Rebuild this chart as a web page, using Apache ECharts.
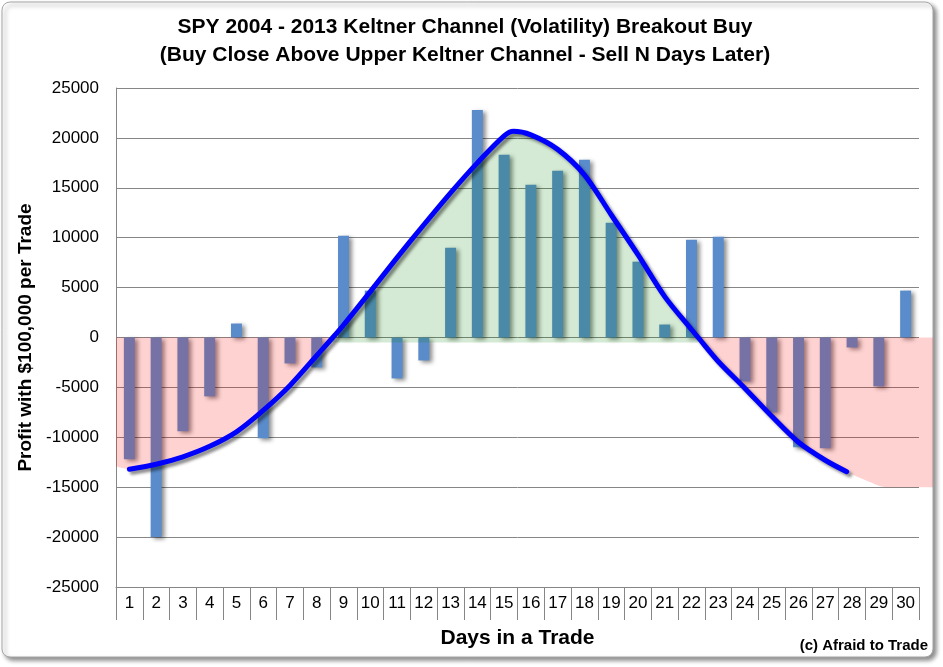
<!DOCTYPE html>
<html>
<head>
<meta charset="utf-8">
<script src="https://cdn.jsdelivr.net/npm/echarts@6/dist/echarts.min.js"></script>
<style>
  html, body { margin: 0; padding: 0; background: #ffffff; }
  #chart { width: 943px; height: 667px; }
</style>
</head>
<body>
<div id="chart"></div>
<script>
// ---------- data ----------
const titleLines = [
  'SPY 2004 - 2013 Keltner Channel (Volatility) Breakout Buy',
  '(Buy Close Above Upper Keltner Channel - Sell N Days Later)'
];
const xAxisTitle = 'Days in a Trade';
const yAxisTitle = 'Profit with $100,000 per Trade';
const creditText = '(c) Afraid to Trade';

const days = [1, 2, 3, 4, 5, 6, 7, 8, 9, 10, 11, 12, 13, 14, 15, 16, 17, 18, 19, 20, 21, 22, 23, 24, 25, 26, 27, 28, 29, 30];
const profit = [-12200, -20000, -9400, -5900, 1400, -10100, -2600, -3000, 10200, 4700,
                -4100, -2300, 9000, 22800, 18300, 15300, 16700, 17800, 11500, 7600,
                1300, 9800, 10100, -4400, -7500, -11000, -11100, -1000, -4900, 4700];

// hand-drawn trend curve (day position, value)
const trendDays   = [1, 2, 3, 4, 5, 6, 7, 8, 8.6, 9, 10, 11, 12, 13, 14, 15, 15.35, 16, 17, 18, 19, 20, 21, 22, 22.25, 23, 24, 25, 26, 27, 27.8];
const trendValues = [-13200, -12700, -11950, -10900, -9450, -7300, -4800, -1800, 0, 1250, 4600, 8000, 11300, 14500, 17500, 20200, 20660, 20300, 18850, 16300, 12300, 8300, 4100, 800, 0, -2400, -5100, -7900, -10500, -12300, -13450];

// shaded zones
const gainZone = [8.6, 22.25];          // green zone between the zero crossings
const lossLeftEdgeValue = -12900;        // red zone value at left edge
const lossTailDays = [28.5, 29.3];       // red zone continuation after the curve ends
const lossTailValues = [-14300, -15000];

const yTicks = { min: -25000, max: 25000, interval: 5000 };

// ---------- layout ----------
const W = 943, H = 667;
const plotLeft = 116, plotRight = 919, plotTop = 88, plotBottom = 587, frameRight = 933;
const overlayMax = 0.5 + days.length * (frameRight - plotLeft) / (plotRight - plotLeft);
const FONT = "'Liberation Sans', Arial, sans-serif";
const GRAY = '#868686';

const curvePts = trendDays.map((d, i) => [d, trendValues[i]]);
const greenPts = curvePts.filter(p => p[0] >= gainZone[0] && p[0] <= gainZone[1]);
const redLeftPts = [[0.5, lossLeftEdgeValue]].concat(curvePts.filter(p => p[0] <= gainZone[0]));
const redRightPts = curvePts.filter(p => p[0] >= gainZone[1])
  .concat(lossTailDays.map((d, i) => [d, lossTailValues[i]]))
  .concat([[overlayMax, lossTailValues[lossTailValues.length - 1]]]);

const chart = echarts.init(document.getElementById('chart'), null, { renderer: 'canvas', width: W, height: H });

const SMOOTH = 0.3;

chart.setOption({
  animation: false,
  backgroundColor: '#ffffff',
  title: {
    text: titleLines.join('\n'),
    left: 465,
    top: 13,
    padding: 0,
    textAlign: 'center',
    textStyle: { fontFamily: FONT, fontSize: 21, fontWeight: 'bold', color: '#000', lineHeight: 28 }
  },
  graphic: [
    {
      type: 'rect', z: -10, silent: true,
      shape: { x: 2, y: 2, width: frameRight - 2, height: 655, r: 8 },
      style: { fill: '#ffffff', stroke: '#a6a6a6', lineWidth: 1,
               shadowBlur: 4, shadowOffsetX: 3, shadowOffsetY: 3, shadowColor: 'rgba(0,0,0,0.45)' }
    },
    {
      type: 'text', z: 10,
      x: 928, y: 646,
      style: { text: creditText, font: "bold 15px 'Liberation Sans', Arial, sans-serif",
               fill: '#000', textAlign: 'right', textVerticalAlign: 'middle' }
    }
  ],
  grid: [
    { left: plotLeft, right: W - plotRight, top: plotTop, bottom: H - plotBottom, containLabel: false },
    { left: plotLeft, right: W - frameRight, top: plotTop, bottom: H - plotBottom, containLabel: false }
  ],
  xAxis: [
    {
      type: 'category', gridIndex: 0, data: days, boundaryGap: true,
      position: 'bottom',
      axisLine: { show: true, onZero: false, lineStyle: { color: GRAY, width: 1 } },
      axisTick: { show: true, interval: 0, length: 33, lineStyle: { color: GRAY, width: 1 } },
      axisLabel: { interval: 0, margin: 8, color: '#000', fontFamily: FONT, fontSize: 17 },
      splitLine: { show: false },
      name: xAxisTitle, nameLocation: 'middle', nameGap: 41,
      nameTextStyle: { fontFamily: FONT, fontSize: 21, fontWeight: 'bold', color: '#000' }
    },
    {
      type: 'value', gridIndex: 1, min: 0.5, max: overlayMax, show: false
    }
  ],
  yAxis: [
    {
      type: 'value', gridIndex: 0,
      min: yTicks.min, max: yTicks.max, interval: yTicks.interval,
      axisLine: { show: true, lineStyle: { color: GRAY, width: 1 } },
      axisTick: { show: false },
      axisLabel: { margin: 17, color: '#000', fontFamily: FONT, fontSize: 17, formatter: v => String(v) },
      splitLine: { show: true, lineStyle: { color: GRAY, width: 1 } },
      name: yAxisTitle, nameLocation: 'middle', nameGap: 72, nameRotate: 90,
      nameTextStyle: { fontFamily: FONT, fontSize: 19, fontWeight: 'bold', color: '#000' }
    },
    {
      type: 'value', gridIndex: 1, min: yTicks.min, max: yTicks.max, show: false
    }
  ],
  series: [
    {
      type: 'bar', xAxisIndex: 0, yAxisIndex: 0, data: profit,
      barWidth: '41%', z: 2,
      itemStyle: {
        color: '#5a8bca',
        shadowColor: 'rgba(0,0,0,0.45)', shadowBlur: 4, shadowOffsetX: 3, shadowOffsetY: 2
      }
    },
    {
      type: 'line', xAxisIndex: 1, yAxisIndex: 1, data: greenPts, smooth: SMOOTH,
      symbol: 'none', z: 3, lineStyle: { width: 0, opacity: 0 },
      areaStyle: { color: 'rgba(0,128,0,0.24)', origin: -500 }
    },
    {
      type: 'line', xAxisIndex: 1, yAxisIndex: 1, data: redLeftPts, smooth: SMOOTH,
      symbol: 'none', z: 3, lineStyle: { width: 0, opacity: 0 },
      areaStyle: { color: 'rgba(255,0,0,0.25)', origin: 0 }
    },
    {
      type: 'line', xAxisIndex: 1, yAxisIndex: 1, data: redRightPts, smooth: SMOOTH,
      symbol: 'none', z: 3, lineStyle: { width: 0, opacity: 0 },
      areaStyle: { color: 'rgba(255,0,0,0.25)', origin: 0 }
    },
    {
      type: 'line', xAxisIndex: 1, yAxisIndex: 1, data: curvePts, smooth: SMOOTH,
      symbol: 'none', z: 4,
      lineStyle: { color: '#0000ff', width: 5, cap: 'round',
                   shadowColor: 'rgba(0,0,0,0.45)', shadowBlur: 3, shadowOffsetX: 3, shadowOffsetY: 3 }
    }
  ]
});
</script>
</body>
</html>
